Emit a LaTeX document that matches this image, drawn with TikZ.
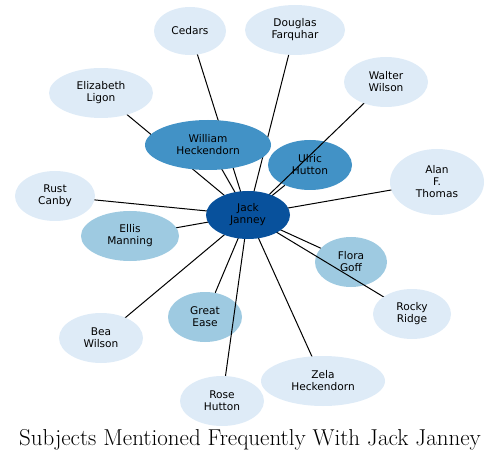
\documentclass[tikz,border=0pt]{standalone}
\usepackage{fontspec}
\newfontfamily\lblfont{DejaVu Sans}
\definecolor{cA}{HTML}{DEEBF7}
\definecolor{cB}{HTML}{9ECAE1}
\definecolor{cC}{HTML}{4292C6}
\definecolor{cD}{HTML}{08519C}
\tikzset{
  ent/.style={ellipse, inner sep=0pt, align=center, font=\lblfont\fontsize{10.6}{12}\selectfont, text=black},
  edge/.style={draw=black, line width=1pt},
}
\usetikzlibrary{shapes.geometric}
\begin{document}
\begin{tikzpicture}[x=1pt,y=-1pt]
\useasboundingbox (0,0) rectangle (500,462);
% coordinates of centres
\coordinate (jc) at (248,215);
\coordinate (wh) at (208,145);
\coordinate (uh) at (310,165);
\coordinate (em) at (130,236);
\coordinate (ge) at (205,317);
\coordinate (fg) at (351,262);
\coordinate (ce) at (190,31);
\coordinate (df) at (295,30);
\coordinate (ww) at (386,82);
\coordinate (el) at (101,93);
\coordinate (at) at (437,182);
\coordinate (rc) at (55,196);
\coordinate (rr) at (412,314);
\coordinate (bw) at (101,338);
\coordinate (zh) at (323,381);
\coordinate (rh) at (222,401);
% nodes drawn beneath the connectors
\node[ent, fill=cC, minimum width=84pt, minimum height=50pt] (nuh) at (uh) {Ulric\\Hutton};
\node[ent, fill=cB, minimum width=74pt, minimum height=50pt] (nge) at (ge) {Great\\Ease};
\node[ent, fill=cB, minimum width=72pt, minimum height=50pt] (nfg) at (fg) {Flora\\Goff};
% edges
\foreach \t in {nuh,nge,nfg}
  \draw[edge] (jc) -- (\t);
\foreach \t in {wh,em,ce,df,el,at,rc,rr,bw,zh,rh,ww}
  \draw[edge] (jc) -- (\t);
\node[ent, fill=cC, minimum width=126pt, minimum height=50pt] (nwh) at (wh) {William\\Heckendorn};
\node[ent, fill=cB, minimum width=98pt, minimum height=50pt] (nem) at (em) {Ellis\\Manning};
\node[ent, fill=cA, minimum width=72pt, minimum height=48pt] (nce) at (ce) {Cedars};
\node[ent, fill=cA, minimum width=100pt, minimum height=50pt] (ndf) at (df) {Douglas\\Farquhar};
\node[ent, fill=cA, minimum width=84pt, minimum height=50pt] (nww) at (ww) {Walter\\Wilson};
\node[ent, fill=cA, minimum width=104pt, minimum height=50pt] (nel) at (el) {Elizabeth\\Ligon};
\node[ent, fill=cA, minimum width=94pt, minimum height=66pt] (nat) at (at) {Alan\\F.\\Thomas};
\node[ent, fill=cA, minimum width=80pt, minimum height=50pt] (nrc) at (rc) {Rust\\Canby};
\node[ent, fill=cA, minimum width=78pt, minimum height=50pt] (nrr) at (rr) {Rocky\\Ridge};
\node[ent, fill=cA, minimum width=84pt, minimum height=50pt] (nbw) at (bw) {Bea\\Wilson};
\node[ent, fill=cA, minimum width=124pt, minimum height=50pt] (nzh) at (zh) {Zela\\Heckendorn};
\node[ent, fill=cA, minimum width=84pt, minimum height=50pt] (nrh) at (rh) {Rose\\Hutton};
\node[ent, fill=cD, minimum width=84pt, minimum height=48pt] (njj) at (jc) {Jack\\Janney};
\node[font=\fontsize{23}{26}\selectfont, inner sep=0pt] (title) at (250,440) {Subjects Mentioned Frequently With Jack Janney};
\end{tikzpicture}
\end{document}
